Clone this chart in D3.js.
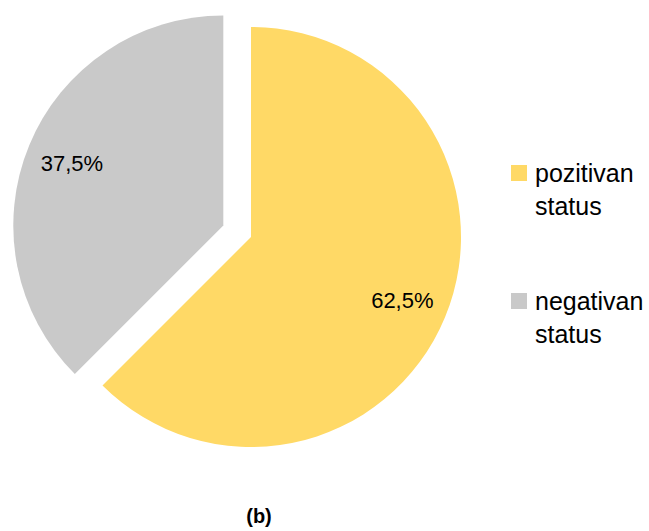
<!DOCTYPE html>
<html>
<head>
<meta charset="utf-8">
<script src="https://cdn.jsdelivr.net/npm/d3@7"></script>
<style>
  body { margin: 0; background: #fff; }
  text { font-family: "Liberation Sans", Arial, sans-serif; }
</style>
</head>
<body>
<script>
var categories = ["pozitivan status", "negativan status"],
    values = [62.5, 37.5],
    labels = ["62,5%", "37,5%"],
    colors = ["#FFD966", "#C9C9C9"],
    explode = [0, 30];

var width = 649, height = 531,
    cx = 251, cy = 237,
    radius = 210;

var svg = d3.select("body").append("svg")
    .attr("width", width)
    .attr("height", height);

var pie = d3.pie().sort(null).value(function (d) { return d; });
var arcs = pie(values);

var arc = d3.arc().innerRadius(0).outerRadius(radius);
var labelArc = d3.arc().innerRadius(radius * 0.78).outerRadius(radius * 0.78);

var g = svg.append("g")
    .attr("transform", "translate(" + cx + "," + cy + ")");

var slices = g.selectAll(".slice")
    .data(arcs)
    .enter().append("g")
    .attr("class", "slice")
    .attr("transform", function (d, i) {
        var a = (d.startAngle + d.endAngle) / 2;
        return "translate(" + [Math.sin(a) * explode[i], -Math.cos(a) * explode[i]] + ")";
    });

slices.append("path")
    .attr("d", arc)
    .attr("fill", function (d, i) { return colors[i]; });

slices.append("text")
    .attr("transform", function (d) { return "translate(" + labelArc.centroid(d) + ")"; })
    .attr("text-anchor", "middle")
    .attr("dy", "0.36em")
    .style("font-size", "22px")
    .attr("fill", "#000")
    .text(function (d, i) { return labels[i]; });

// legend
var legend = svg.append("g").attr("transform", "translate(511, 165)");
var items = legend.selectAll("g")
    .data(categories)
    .enter().append("g")
    .attr("transform", function (d, i) { return "translate(0," + i * 128 + ")"; });

items.append("rect")
    .attr("width", 16)
    .attr("height", 16)
    .attr("fill", function (d, i) { return colors[i]; });

var txt = items.append("text")
    .attr("x", 24)
    .attr("y", 17)
    .style("font-size", "25px")
    .attr("fill", "#000");

txt.selectAll("tspan")
    .data(function (d) { return d.split(" "); })
    .enter().append("tspan")
    .attr("x", 24)
    .attr("dy", function (d, i) { return i === 0 ? 0 : 33; })
    .text(function (d) { return d; });

svg.append("text")
    .attr("x", 259)
    .attr("y", 523)
    .attr("text-anchor", "middle")
    .style("font-size", "20px")
    .style("font-weight", "bold")
    .text("(b)");
</script>
</body>
</html>
